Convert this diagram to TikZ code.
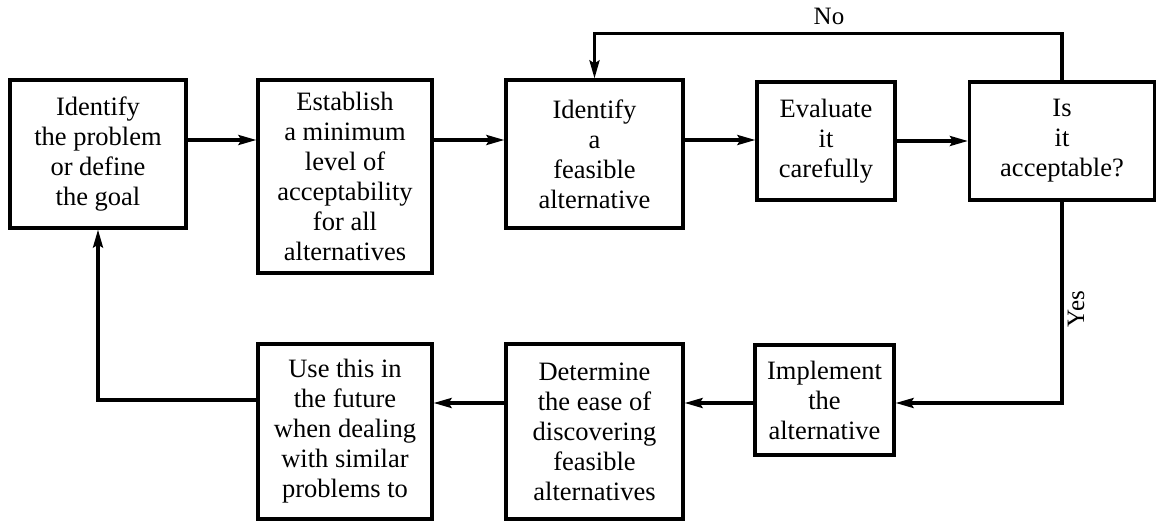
\documentclass[tikz,border=0pt]{standalone}
\usepackage{fontspec}
\setmainfont{Liberation Serif}
\usetikzlibrary{arrows.meta}
\begin{document}
\begin{tikzpicture}[x=1pt,y=-1pt,
  stepbox/.style={draw,line width=3.2pt,align=center,inner sep=0pt,
    font=\fontsize{26.5}{30}\selectfont},
  conn/.style={line width=3.2pt},
  arr/.style={conn,-{Stealth[length=18pt,width=10pt,inset=3pt]}},
  lbl/.style={font=\fontsize{25}{28}\selectfont,inner sep=0pt}]
\useasboundingbox (0,0) rectangle (1160,521);
\node[stepbox,minimum width=176pt,minimum height=148pt] (b1) at (98,154)
  {Identify\\the problem\\or define\\the goal};
\node[stepbox,minimum width=174pt,minimum height=193pt] (b2) at (345,176.5)
  {Establish\\a minimum\\level of\\acceptability\\for all\\alternatives};
\node[stepbox,minimum width=177pt,minimum height=148pt] (b3) at (594.5,154)
  {Identify\\a\\feasible\\alternative};
\node[stepbox,minimum width=138pt,minimum height=118pt] (b4) at (826,141)
  {Evaluate\\it\\carefully};
\node[stepbox,minimum width=185pt,minimum height=118pt] (b5) at (1062,141)
  {Is\\it\\acceptable?};
\node[stepbox,minimum width=139pt,minimum height=110pt] (b6) at (824.5,400)
  {Implement\\the\\alternative};
\node[stepbox,minimum width=177pt,minimum height=175pt] (b7) at (594.5,431.5)
  {Determine\\the ease of\\discovering\\feasible\\alternatives};
\node[stepbox,minimum width=174pt,minimum height=175pt] (b8) at (345,431.5)
  {Use this in\\the future\\when dealing\\with similar\\problems to};
\node[lbl] (no) at (829,16) {No};
\node[lbl,rotate=90] (yes) at (1076,309) {Yes};
\draw[arr] ([yshift=14pt]b1.east) -- ([yshift=14pt]b1.east -| b2.west);
\draw[arr] ([yshift=14pt]b1.east -| b2.east) -- ([yshift=14pt]b1.east -| b3.west);
\draw[arr] ([yshift=14pt]b3.east) -- ([yshift=14pt]b3.east -| b4.west);
\draw[arr] (b4.east) -- (b5.west);
\draw[arr] (b5.north) -- ++(0,-47) -| (b3.north);
\draw[arr] (b5.south) |- ([yshift=-3pt]b6.east);
\draw[arr] ([yshift=-3pt]b6.west) -- ([yshift=-3pt]b6.west -| b7.east);
\draw[arr] ([yshift=-3pt]b6.west -| b7.west) -- ([yshift=-3pt]b6.west -| b8.east);
\draw[arr] (b6.west -| b8.west) -| (b1.south);
\end{tikzpicture}
\end{document}
